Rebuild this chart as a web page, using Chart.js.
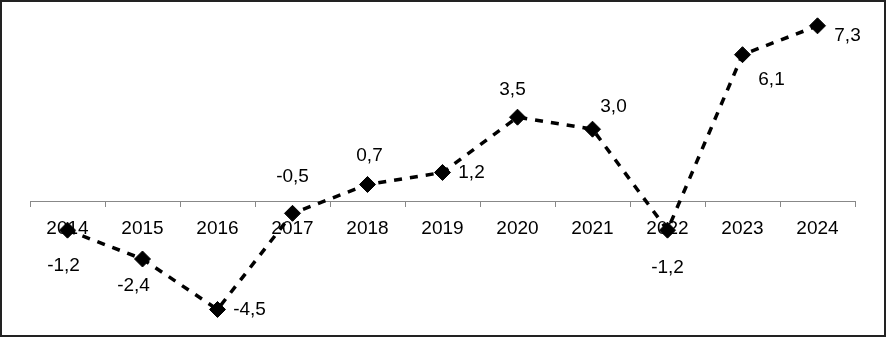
<!DOCTYPE html>
<html>
<head>
<meta charset="utf-8">
<script src="https://cdn.jsdelivr.net/npm/chart.js@4.4.1/dist/chart.umd.min.js"></script>
<style>
    html, body { margin: 0; padding: 0; background: #fff; }
    #wrap { width: 886px; height: 337px; position: relative; }
</style>
</head>
<body>
<div id="wrap"><canvas id="growthChart"></canvas></div>
<script>
// Years and yearly values
const years = ['2014', '2015', '2016', '2017', '2018', '2019', '2020', '2021', '2022', '2023', '2024'];
const values = [-1.2, -2.4, -4.5, -0.5, 0.7, 1.2, 3.5, 3.0, -1.2, 6.1, 7.3];

// Where each value label sits relative to its marker (dx, dy in px)
const labelOffsets = [
    [-4, 36], [-9, 27], [32, 0], [0, -37], [2, -29], [29, 0],
    [-5, -27], [21, -22], [0, 38], [29, 25], [30, 10]
];

const FONT = '"Liberation Sans", Arial, sans-serif';

// Outer frame round the whole picture
const framePlugin = {
    id: 'frame',
    afterDraw(chart) {
        const ctx = chart.ctx;
        ctx.save();
        ctx.strokeStyle = '#222';
        ctx.lineWidth = 2;
        ctx.strokeRect(1, 1, chart.width - 2, chart.height - 2);
        ctx.restore();
    }
};

// Value labels with decimal comma
const valueLabels = {
    id: 'valueLabels',
    afterDatasetsDraw(chart) {
        const ctx = chart.ctx;
        const meta = chart.getDatasetMeta(0);
        ctx.save();
        ctx.font = '19px ' + FONT;
        ctx.fillStyle = '#000';
        ctx.textAlign = 'center';
        ctx.textBaseline = 'middle';
        meta.data.forEach((pt, i) => {
            const off = labelOffsets[i];
            const txt = values[i].toFixed(1).replace('.', ',');
            ctx.fillText(txt, pt.x + off[0], pt.y + off[1]);
        });
        ctx.restore();
    }
};

new Chart(document.getElementById('growthChart'), {
    type: 'line',
    data: {
        labels: years,
        datasets: [{
            data: values,
            borderColor: '#000',
            borderWidth: 3.5,
            borderDash: [8, 8],
            tension: 0,
            fill: false,
            pointStyle: 'rectRot',
            pointRadius: 8,
            pointHoverRadius: 8,
            pointBackgroundColor: '#000',
            pointBorderColor: '#000',
            pointBorderWidth: 1,
            clip: false
        }]
    },
    options: {
        responsive: true,
        maintainAspectRatio: false,
        animation: false,
        events: [],
        layout: {
            padding: { top: 6, bottom: 15.5, left: 30, right: 31 }
        },
        plugins: {
            legend: { display: false },
            tooltip: { enabled: false }
        },
        scales: {
            x: {
                position: { y: 0 },
                offset: true,
                grid: {
                    offset: true,
                    drawOnChartArea: false,
                    drawTicks: true,
                    tickLength: 5,
                    color: '#888'
                },
                border: { display: true, color: '#888', width: 1 },
                ticks: {
                    color: '#000',
                    padding: 11,
                    font: { family: FONT, size: 19 }
                }
            },
            y: {
                display: false,
                min: -5,
                max: 8
            }
        }
    },
    plugins: [valueLabels, framePlugin]
});
</script>
</body>
</html>
